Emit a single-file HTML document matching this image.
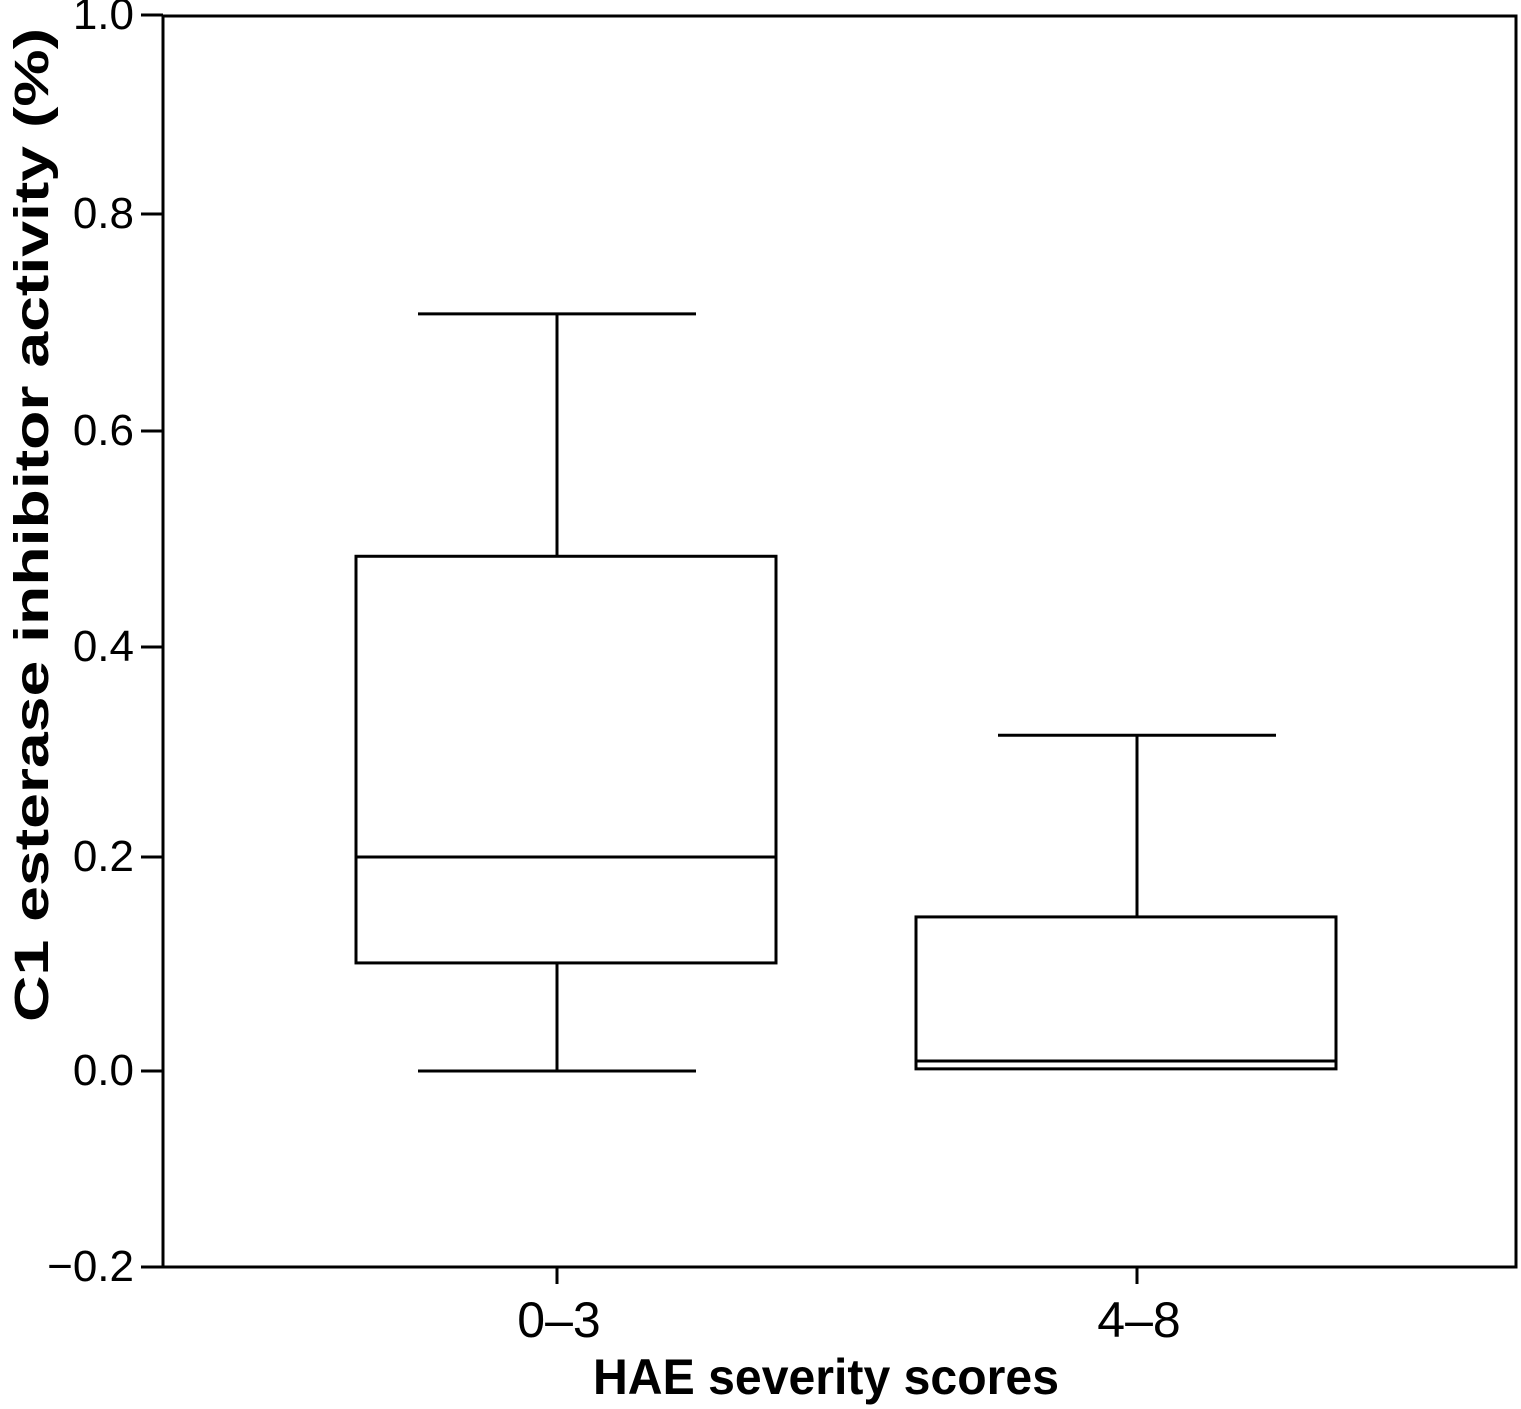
<!DOCTYPE html>
<html><head><meta charset="utf-8"><style>
html,body{margin:0;padding:0;background:#fff;}
svg{display:block;font-family:"Liberation Sans",sans-serif;}
</style></head><body>
<svg id="chart" width="1521" height="1409" viewBox="0 0 1521 1409">
<rect x="163" y="16" width="1353" height="1251" fill="none" stroke="#000" stroke-width="3"/>
<g id="yaxis"></g>
<g id="xaxis"></g>
<g id="boxes"></g>
<text x="826" y="1394" text-anchor="middle" font-size="50" font-weight="bold" textLength="466" lengthAdjust="spacingAndGlyphs">HAE severity scores</text>
<text transform="translate(48,525) rotate(-90)" text-anchor="middle" font-size="48" font-weight="bold" textLength="994" lengthAdjust="spacingAndGlyphs">C1 esterase inhibitor activity (%)</text>
</svg>
<script>
const categories = ["0–3", "4–8"];
const whiskerLow = [0.0, 0.0];
const q1Values = [0.101, 0.002];
const medianValues = [0.2, 0.0094];
const q3Values = [0.484, 0.144];
const whiskerHigh = [0.708, 0.316];
const yTickValues = [-0.2, 0.0, 0.2, 0.4, 0.6, 0.8, 1.0];
const yTickLabels = ["−0.2", "0.0", "0.2", "0.4", "0.6", "0.8", "1.0"];

const NS = "http://www.w3.org/2000/svg";
const tickPx = [1267, 1071, 857, 647, 431, 214, 15];
function y(v){
  for(let i=0;i<yTickValues.length-1;i++){
    const a=yTickValues[i], b=yTickValues[i+1];
    if(v<=b || i===yTickValues.length-2){
      return tickPx[i] + (v-a)/(b-a)*(tickPx[i+1]-tickPx[i]);
    }
  }
}
const plotL=163;
function x(i){ return 557 + i*580; }
const boxShift=[9,-11];
const boxHalf=210, capHalf=139;

function el(tag, attrs, parent){
  const e=document.createElementNS(NS, tag);
  for(const k in attrs) e.setAttribute(k, attrs[k]);
  parent.appendChild(e);
  return e;
}
const ya=document.getElementById('yaxis');
yTickValues.forEach((v,i)=>{
  const t=el('line',{x1:141,x2:plotL,y1:y(v),y2:y(v),stroke:'#000','stroke-width':3},ya);
  
  
  const l=el('text',{x:134,y:y(v)+14,'text-anchor':'end','font-size':44},ya);
  l.textContent=yTickLabels[i];
  
  
});
const xa=document.getElementById('xaxis');
categories.forEach((c,i)=>{
  const t=el('line',{x1:x(i),x2:x(i),y1:1267,y2:1284,stroke:'#000','stroke-width':3},xa);
  
  
  const l=el('text',{x:x(i)+2,y:1337,'text-anchor':'middle','font-size':50},xa);
  l.textContent=c;
  
  
});
const bx=document.getElementById('boxes');
categories.forEach((c,i)=>{
  const g=el('g',{},bx);
  
  
  const cx=x(i), bc=cx+boxShift[i], s={stroke:'#000','stroke-width':3,fill:'none'};
  const wu=el('line',Object.assign({x1:cx,x2:cx,y1:y(q3Values[i]),y2:y(whiskerHigh[i])},s),g);
  
  
  const cu=el('line',Object.assign({x1:cx-capHalf,x2:cx+capHalf,y1:y(whiskerHigh[i]),y2:y(whiskerHigh[i])},s),g);
  
  
  if(y(whiskerLow[i])-y(q1Values[i])>4){
    const wl=el('line',Object.assign({x1:cx,x2:cx,y1:y(q1Values[i]),y2:y(whiskerLow[i])},s),g);
    
    
    const cl=el('line',Object.assign({x1:cx-capHalf,x2:cx+capHalf,y1:y(whiskerLow[i]),y2:y(whiskerLow[i])},s),g);
    
    
  }
  const r=el('rect',Object.assign({x:bc-boxHalf,y:y(q3Values[i]),width:boxHalf*2,height:y(q1Values[i])-y(q3Values[i])},s,{fill:'#fff'}),g);
  
  
  const m=el('line',Object.assign({x1:bc-boxHalf,x2:bc+boxHalf,y1:y(medianValues[i]),y2:y(medianValues[i])},s),g);
  
  
});
</script>
</body></html>
